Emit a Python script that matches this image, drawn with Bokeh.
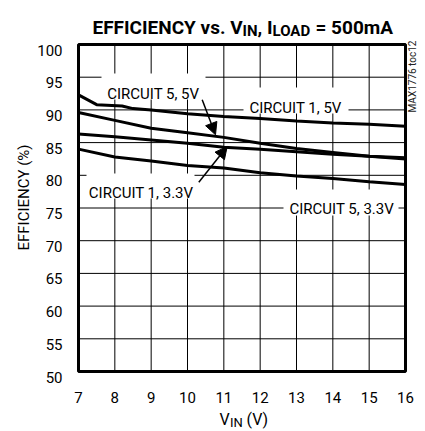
from bokeh.plotting import figure
from bokeh.models import Range1d, Label, Arrow, NormalHead
from bokeh.core.properties import value
from bokeh.embed import file_html
from bokeh.resources import INLINE
import math

# ---- data ----
vin_c1_5v = [7, 7.5, 8.2, 8.5, 9, 10, 11, 12, 13, 14, 15, 16]
eff_c1_5v = [92.3, 90.8, 90.6, 90.2, 90.0, 89.4, 89.0, 88.7, 88.3, 88.0, 87.8, 87.5]

vin = [7, 8, 9, 10, 11, 12, 13, 14, 15, 16]
eff_c5_5v = [89.6, 88.4, 87.2, 86.5, 85.8, 84.9, 84.1, 83.5, 82.9, 82.5]
eff_c1_33v = [86.3, 85.9, 85.4, 84.9, 84.3, 84.0, 83.6, 83.2, 82.9, 82.7]
eff_c5_33v = [84.0, 82.8, 82.2, 81.5, 81.1, 80.4, 79.9, 79.5, 79.0, 78.6]

x_ticks = [7, 8, 9, 10, 11, 12, 13, 14, 15, 16]
y_ticks = [50, 55, 60, 65, 70, 75, 80, 85, 90, 95, 100]
x_tick_labels = [str(t) for t in x_ticks]
y_tick_labels = [str(t) for t in y_ticks]

FONT = "Roboto"

# ---- layout (pixels) ----
W, H = 425, 431
TOP = 10                                  # frame starts this far below the canvas top
PL, PR, PT, PB = 78, 405, 44, 371        # plot box edges on the canvas
SX = (PR - PL) / (x_ticks[-1] - x_ticks[0])   # px per volt
SY = (PB - PT) / (y_ticks[-1] - y_ticks[0])   # px per percent

x0 = x_ticks[0] - PL / SX
x1 = x_ticks[0] + (W - PL) / SX
y1 = y_ticks[-1] + (PT - TOP) / SY
y0 = y_ticks[0] - (H - PB) / SY

p = figure(width=W, height=H, output_backend="svg", toolbar_location=None,
           x_range=Range1d(x0, x1), y_range=Range1d(y0, y1),
           x_axis_location=None, y_axis_location=None, min_border=0)
p.title = None
p.min_border_top = TOP
p.min_border_bottom = 0
p.min_border_left = 0
p.min_border_right = 0
p.outline_line_color = None
p.xgrid.visible = False
p.ygrid.visible = False
p.background_fill_color = "white"
p.border_fill_color = "white"

def X(px):
    return x0 + px / SX

def Y(py):
    return y1 - (py - TOP) / SY

xmin, xmax = x_ticks[0], x_ticks[-1]
ymin, ymax = y_ticks[0], y_ticks[-1]

# grid lines from the tick arrays
p.segment(x0=x_ticks, y0=[ymin] * len(x_ticks), x1=x_ticks, y1=[ymax] * len(x_ticks),
          line_color="black", line_width=1)
p.segment(x0=[xmin] * len(y_ticks), y0=y_ticks, x1=[xmax] * len(y_ticks), y1=y_ticks,
          line_color="black", line_width=1)

# white boxes behind the curve labels (hide grid lines only)
boxes = [(101, 205, 73, 99), (243, 348, 87, 113), (86, 194, 173, 198), (283, 398, 189, 215)]
p.quad(left=[X(b[0]) for b in boxes], right=[X(b[1]) for b in boxes],
       top=[Y(b[2]) for b in boxes], bottom=[Y(b[3]) for b in boxes],
       fill_color="white", line_color=None)

# ---- curves ----
p.line(vin_c1_5v, eff_c1_5v, line_color="black", line_width=3)
p.line(vin, eff_c5_5v, line_color="black", line_width=3)
p.line(vin, eff_c1_33v, line_color="black", line_width=3)
p.line(vin, eff_c5_33v, line_color="black", line_width=3)

# plot box outline
p.quad(left=[xmin], right=[xmax], bottom=[ymin], top=[ymax],
       fill_color=None, line_color="black", line_width=3)

# tick labels
p.text(x=[xmin] * len(y_ticks), y=y_ticks, text=y_tick_labels, x_offset=-16, y_offset=5.5,
       text_align="right", text_baseline="alphabetic", text_font=value(FONT),
       text_font_size="15px", text_color="black")
p.text(x=x_ticks, y=[ymin] * len(x_ticks), text=x_tick_labels, y_offset=26,
       text_align="center", text_baseline="alphabetic", text_font=value(FONT),
       text_font_size="15px", text_color="black")

def add_text(txt, px, py, size, bold=False, align="left", angle=0,
             baseline="alphabetic", color="black"):
    p.add_layout(Label(x=X(px), y=Y(py), text=txt, text_font=FONT,
                       text_font_size=f"{size}px",
                       text_font_style="bold" if bold else "normal",
                       text_align=align, text_baseline=baseline, angle=angle,
                       text_color=color))

# curve labels
add_text("CIRCUIT 5, 5V", 106.7, 93.3, 15)
add_text("CIRCUIT 1, 5V", 249, 107.3, 15)
add_text("CIRCUIT 1, 3.3V", 88.3, 192.3, 15)
add_text("CIRCUIT 5, 3.3V", 289, 208.3, 15)

# arrows
for (ax0, ay0, ax1, ay1) in [(201.7, 99.3, 215, 134.3), (198.3, 181.7, 226.7, 146)]:
    p.add_layout(Arrow(x_start=X(ax0), y_start=Y(ay0), x_end=X(ax1), y_end=Y(ay1),
                       line_color="black", line_width=1.5,
                       end=NormalHead(size=12, fill_color="black",
                                      line_color="black")))

# title with subscripts
add_text("EFFICIENCY vs. V", 92, 27, 19, bold=True)
add_text("IN", 242, 30, 15, bold=True)
add_text(", I", 257, 27, 19, bold=True)
add_text("LOAD", 272, 30, 15, bold=True)
add_text("= 500mA", 315, 27, 19, bold=True)

# axis titles
add_text("V", 219, 419, 16)
add_text("IN", 229.5, 422, 13)
add_text("(V)", 246, 419, 16)
add_text("EFFICIENCY (%)", 23, 197, 15, align="center", baseline="middle",
         angle=math.pi / 2)

# part number
add_text("MAX1776 toc12", 412, 76, 10, align="center", baseline="middle",
         angle=math.pi / 2, color="#222222")

open("out.html", "w").write(file_html(p, INLINE))
